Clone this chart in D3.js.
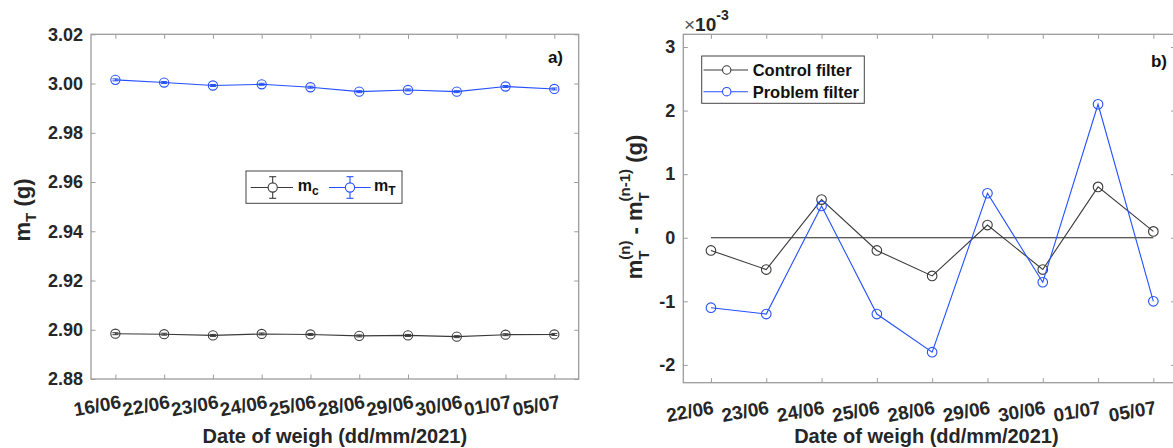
<!DOCTYPE html>
<html>
<head>
<meta charset="utf-8">
<script src="https://cdn.jsdelivr.net/npm/d3@7"></script>
<style>
  html, body { margin: 0; padding: 0; background: #fff; }
  svg { display: block; font-family: "Liberation Sans", Arial, sans-serif; }
</style>
</head>
<body>
<svg id="fig" width="1173" height="448"></svg>
<script>
// Weigh dates for the absolute masses (panel a)
const datesA = ["16/06", "22/06", "23/06", "24/06", "25/06", "28/06", "29/06", "30/06", "01/07", "05/07"];
// Control filter mass m_c (g)
const massControl = [2.8984, 2.8982, 2.8977, 2.8983, 2.8981, 2.8975, 2.8977, 2.8972, 2.8980, 2.8981];
// Problem filter mass m_T (g)
const massProblem = [3.0015, 3.0004, 2.9992, 2.9997, 2.9985, 2.9967, 2.9974, 2.9967, 2.9988, 2.9978];
// Balance uncertainty (g)
const errControl = [0.0004, 0.0004, 0.0004, 0.0004, 0.0004, 0.0004, 0.0004, 0.0004, 0.0004, 0.0004];
const errProblem = [0.0004, 0.0004, 0.0004, 0.0004, 0.0004, 0.0004, 0.0004, 0.0004, 0.0004, 0.0004];
const yTicksA = [2.88, 2.90, 2.92, 2.94, 2.96, 2.98, 3.00, 3.02];

// Day-to-day mass change (x 10^-3 g), panel b
const datesB = ["22/06", "23/06", "24/06", "25/06", "28/06", "29/06", "30/06", "01/07", "05/07"];
const diffControl = [-0.2, -0.5, 0.6, -0.2, -0.6, 0.2, -0.5, 0.8, 0.1];
const diffProblem = [-1.1, -1.2, 0.5, -1.2, -1.8, 0.7, -0.7, 2.1, -1.0];
const yTicksB = [-2, -1, 0, 1, 2, 3];

const BLUE = "#2450ff";
const BLACK = "#3a3a3a";
const AXIS = "#9c9c9c";
const LABEL = "#262626";
const FONT = "'Liberation Sans', Arial, sans-serif";
const TICK = 4.5;

const svg = d3.select("#fig");

function frame(g, x, y, xTickVals, xLabels, yTicks, yFmt, xLab) {
  const [x0, x1] = x.range();
  const [y0, y1] = y.range();
  // bottom axis with slanted date labels
  const bottom = g.append("g").attr("transform", `translate(0,${y0})`)
    .call(d3.axisBottom(x).tickValues(xTickVals).tickFormat((d, i) => xLabels[i])
      .tickSizeInner(-TICK).tickSizeOuter(0));
  // top axis, ticks only
  g.append("g").attr("transform", `translate(0,${y1})`)
    .call(d3.axisTop(x).tickValues(xTickVals).tickFormat("").tickSizeInner(-TICK).tickSizeOuter(0));
  // left axis with labels
  const left = g.append("g").attr("transform", `translate(${x0},0)`)
    .call(d3.axisLeft(y).tickValues(yTicks).tickFormat(yFmt).tickSizeInner(-TICK).tickSizeOuter(0).tickPadding(8));
  // right axis, ticks only
  g.append("g").attr("transform", `translate(${x1},0)`)
    .call(d3.axisRight(y).tickValues(yTicks).tickFormat("").tickSizeInner(-TICK).tickSizeOuter(0));
  g.selectAll(".domain").remove();
  g.selectAll(".tick line").attr("stroke", AXIS).attr("stroke-width", 1);
  g.selectAll(".tick text").attr("fill", LABEL).attr("font-family", FONT).attr("font-weight", "bold");
  left.selectAll("text").attr("font-size", 18);
  bottom.selectAll("text")
    .attr("font-size", 19)
    .attr("text-anchor", "end")
    .attr("x", xLab.dx).attr("y", xLab.dy).attr("dy", 0)
    .attr("transform", `rotate(-10 ${xLab.dx} ${xLab.dy})`);
  g.append("rect").attr("x", x0).attr("y", y1).attr("width", x1 - x0).attr("height", y0 - y1)
    .attr("fill", "none").attr("stroke", AXIS).attr("stroke-width", 1.3);
}

// ---------------- Panel a ----------------
const xA = d3.scaleLinear().domain([0.5, 10.5]).range([91, 578.7]);
const yA = d3.scaleLinear().domain([2.88, 3.02]).range([379, 34.3]);
const gA = svg.append("g");
const idxA = datesA.map((d, i) => i + 1);
frame(gA, xA, yA, idxA, datesA, yTicksA, d3.format(".2f"), { dx: 6, dy: 29 });

function errSeries(g, vals, errs, color) {
  const pts = vals.map((v, i) => ({ i: i + 1, v, e: errs[i] }));
  g.append("path").datum(pts)
    .attr("d", d3.line().x(d => xA(d.i)).y(d => yA(d.v)))
    .attr("fill", "none").attr("stroke", color).attr("stroke-width", 1.1);
  const eb = g.append("g").selectAll("g").data(pts).join("g");
  eb.append("line").attr("x1", d => xA(d.i)).attr("x2", d => xA(d.i))
    .attr("y1", d => yA(d.v - d.e)).attr("y2", d => yA(d.v + d.e))
    .attr("stroke", color).attr("stroke-width", 1);
  eb.append("line").attr("x1", d => xA(d.i) - 3).attr("x2", d => xA(d.i) + 3)
    .attr("y1", d => yA(d.v - d.e)).attr("y2", d => yA(d.v - d.e))
    .attr("stroke", color).attr("stroke-width", 1);
  eb.append("line").attr("x1", d => xA(d.i) - 3).attr("x2", d => xA(d.i) + 3)
    .attr("y1", d => yA(d.v + d.e)).attr("y2", d => yA(d.v + d.e))
    .attr("stroke", color).attr("stroke-width", 1);
  eb.append("circle").attr("cx", d => xA(d.i)).attr("cy", d => yA(d.v)).attr("r", 4.6)
    .attr("fill", "none").attr("stroke", color).attr("stroke-width", 1.1);
}
errSeries(gA, massControl, errControl, BLACK);
errSeries(gA, massProblem, errProblem, BLUE);

gA.append("text").attr("x", 563).attr("y", 63).attr("text-anchor", "end")
  .attr("font-family", FONT).attr("font-weight", "bold").attr("font-size", 17).attr("fill", "#111").text("a)");

// legend a
const legA = gA.append("g");
legA.append("rect").attr("x", 246).attr("y", 171).attr("width", 156).attr("height", 32.3)
  .attr("fill", "#fff").attr("stroke", "#444").attr("stroke-width", 1);
[[250.7, 293, 272.7, BLACK, "c", 297.7], [329, 370.7, 350, BLUE, "T", 374]].forEach(([a, b, c, col, sub, tx]) => {
  const cy = 187.5;
  legA.append("line").attr("x1", a).attr("x2", b).attr("y1", cy).attr("y2", cy).attr("stroke", col).attr("stroke-width", 1.1);
  legA.append("line").attr("x1", c).attr("x2", c).attr("y1", cy - 10.8).attr("y2", cy + 10.8).attr("stroke", col).attr("stroke-width", 1.1);
  [cy - 10.8, cy + 10.8].forEach(yy => legA.append("line").attr("x1", c - 3.5).attr("x2", c + 3.5)
    .attr("y1", yy).attr("y2", yy).attr("stroke", col).attr("stroke-width", 1.1));
  legA.append("circle").attr("cx", c).attr("cy", cy).attr("r", 4.6).attr("fill", "#fff").attr("stroke", col).attr("stroke-width", 1.1);
  const t = legA.append("text").attr("x", tx).attr("y", 191).attr("font-family", FONT)
    .attr("font-weight", "bold").attr("font-size", 16).attr("fill", "#111");
  t.append("tspan").text("m");
  t.append("tspan").attr("font-size", 12).attr("dy", 4).text(sub);
});

// axis titles a
gA.append("text").attr("x", (91 + 578.7) / 2).attr("y", 443).attr("text-anchor", "middle")
  .attr("font-family", FONT).attr("font-weight", "bold").attr("font-size", 20).attr("fill", LABEL)
  .text("Date of weigh (dd/mm/2021)");
{
  const t = gA.append("text").attr("transform", "translate(30,210) rotate(-90)").attr("text-anchor", "middle")
    .attr("font-family", FONT).attr("font-weight", "bold").attr("font-size", 22).attr("fill", LABEL);
  t.append("tspan").text("m");
  t.append("tspan").attr("font-size", 15).attr("dy", 6).text("T");
  t.append("tspan").attr("dy", -6).text(" (g)");
}

// ---------------- Panel b ----------------
const xB = d3.scaleLinear().domain([0.5, 9.4]).range([683.3, 683.3 + 8.9 * 55.3]);
const yB = d3.scaleLinear().domain([-2.28, 3.2]).range([382.7, 34.3]);
const gB = svg.append("g");
const idxB = datesB.map((d, i) => i + 1);
frame(gB, xB, yB, idxB, datesB, yTicksB, d => String(d), { dx: 3, dy: 31 });

// zero reference
gB.append("line").attr("x1", xB(1)).attr("x2", xB(datesB.length))
  .attr("y1", yB(0)).attr("y2", yB(0)).attr("stroke", "#222").attr("stroke-width", 1.1);

function lineSeries(g, vals, color) {
  const pts = vals.map((v, i) => ({ i: i + 1, v }));
  g.append("path").datum(pts)
    .attr("d", d3.line().x(d => xB(d.i)).y(d => yB(d.v)))
    .attr("fill", "none").attr("stroke", color).attr("stroke-width", 1.1);
  g.append("g").selectAll("circle").data(pts).join("circle")
    .attr("cx", d => xB(d.i)).attr("cy", d => yB(d.v)).attr("r", 4.8)
    .attr("fill", "none").attr("stroke", color).attr("stroke-width", 1.1);
}
lineSeries(gB, diffControl, BLACK);
lineSeries(gB, diffProblem, BLUE);

gB.append("text").attr("x", 1167).attr("y", 67).attr("text-anchor", "end")
  .attr("font-family", FONT).attr("font-weight", "bold").attr("font-size", 17).attr("fill", "#111").text("b)");

// exponent marker
{
  const t = gB.append("text").attr("x", 684).attr("y", 31).attr("font-family", FONT)
    .attr("font-size", 19).attr("fill", LABEL);
  t.append("tspan").attr("font-weight", "normal").attr("fill", "#555").text("\u00d7");
  t.append("tspan").attr("font-weight", "bold").text("10");
  t.append("tspan").attr("font-weight", "bold").attr("font-size", 14).attr("dy", -11).text("-3");
}

// legend b
const legB = gB.append("g");
legB.append("rect").attr("x", 701.7).attr("y", 56).attr("width", 162.6).attr("height", 47.3)
  .attr("fill", "#fff").attr("stroke", "#444").attr("stroke-width", 1);
[["Control filter", BLACK, 70], ["Problem filter", BLUE, 91.7]].forEach(([name, col, cy]) => {
  legB.append("line").attr("x1", 703.5).attr("x2", 748).attr("y1", cy).attr("y2", cy).attr("stroke", col).attr("stroke-width", 1.1);
  legB.append("circle").attr("cx", 726.7).attr("cy", cy).attr("r", 4.2).attr("fill", "#fff").attr("stroke", col).attr("stroke-width", 1.1);
  legB.append("text").attr("x", 752.7).attr("y", cy + 6).attr("font-family", FONT)
    .attr("font-weight", "bold").attr("font-size", 16.5).attr("fill", "#111").text(name);
});

// axis titles b
gB.append("text").attr("x", (683.3 + 1175.5) / 2 - 3).attr("y", 443).attr("text-anchor", "middle")
  .attr("font-family", FONT).attr("font-weight", "bold").attr("font-size", 20).attr("fill", LABEL)
  .text("Date of weigh (dd/mm/2021)");

// y title: m_T^(n) - m_T^(n-1) (g), stacked sub/superscripts laid out along the rotated baseline
{
  const yl = gB.append("g").attr("font-family", FONT).attr("font-weight", "bold").attr("fill", LABEL);
  const inner = yl.append("g");
  let pos = 0;
  const put = (txt, size, dy) => {
    const t = inner.append("text").attr("x", pos).attr("y", dy).attr("font-size", size).attr("xml:space", "preserve").text(txt);
    return t.node().getComputedTextLength();
  };
  const stack = (sub, sup) => {
    const w1 = put(sub, 15, 7);
    const w2 = put(sup, 15, -12);
    pos += Math.max(w1, w2);
  };
  pos += put("m", 22, 0);
  stack("T", "(n)");
  pos += put(" - ", 22, 0);
  pos += put("m", 22, 0);
  stack("T", "(n-1)");
  pos += put(" (g)", 22, 0);
  inner.attr("transform", `translate(${-pos / 2},0)`);
  yl.attr("transform", "translate(642,207) rotate(-90)");
}
</script>
</body>
</html>
